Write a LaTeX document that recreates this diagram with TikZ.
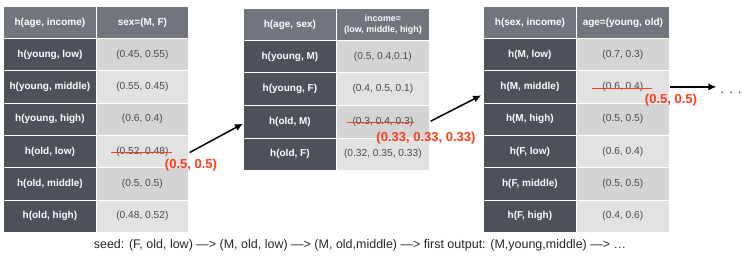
\documentclass[tikz,border=0pt]{standalone}
\usepackage{fontspec}
\setmainfont{Liberation Sans}
\usepackage{xcolor}
\usepackage{tikz}
\usetikzlibrary{arrows.meta, positioning}
\definecolor{hdrgray}{HTML}{72757E}
\definecolor{lblgray}{HTML}{4E505A}
\definecolor{cellA}{HTML}{D4D4D5}
\definecolor{cellB}{HTML}{E2E2E2}
\definecolor{valtext}{HTML}{4A4A4A}
\definecolor{redmark}{HTML}{FF3B1E}

\tikzset{
  cell/.style={draw=white, line width=0.8pt, inner sep=0pt, anchor=north west, minimum height=32.4pt},
  hdr/.style={cell, fill=hdrgray, text=white, font=\bfseries\fontsize{10}{12}\selectfont},
  lbl/.style={cell, fill=lblgray, text=white, minimum width=93pt, font=\bfseries\fontsize{10}{12}\selectfont},
  val/.style={cell, text=valtext, minimum width=92pt, font=\fontsize{10.2}{12}\selectfont},
  strike/.style={redmark, line width=1.3pt},
  newval/.style={redmark, font=\bfseries\fontsize{13}{15}\selectfont, inner sep=0pt},
  step arrow/.style={line width=1.5pt, -{Latex[length=8pt,width=7.5pt]}},
}

\begin{document}
\begin{tikzpicture}[x=1pt, y=-1pt]
    \useasboundingbox (0,0) rectangle (747,262);

    % table 1: sex given age, income
    \node[hdr, minimum width=93pt] (t1h) at (3,6) {h(age, income)};
    \node[hdr, minimum width=92pt] (t1hv) at (96,6) {sex=(M, F)};
    \foreach \l/\v [count=\i] in {{h(young, low)}/{(0.45, 0.55)}, {h(young, middle)}/{(0.55, 0.45)},
        {h(young, high)}/{(0.6, 0.4)}, {h(old, low)}/{(0.52, 0.48)},
        {h(old, middle)}/{(0.5, 0.5)}, {h(old, high)}/{(0.48, 0.52)}} {
      \pgfmathsetmacro{\rowy}{38+(\i-1)*32.3}
      \pgfmathtruncatemacro{\odd}{mod(\i,2)}
      \ifnum\odd=1 \def\cellc{cellA}\else\def\cellc{cellB}\fi
      \node[lbl] (t1l\i) at (3,\rowy) {\l};
      \node[val, fill=\cellc] (t1v\i) at (96,\rowy) {\v};
    }

    % table 2: income given age, sex
    \node[hdr, minimum width=93pt] (t2h) at (243,8) {h(age, sex)};
    \node[hdr, minimum width=93pt, align=center, font=\bfseries\fontsize{8.9}{11}\selectfont] (t2hv) at (336,8) {income=\\(low, middle, high)};
    \foreach \l/\v [count=\i] in {{h(young, M)}/{(0.5, 0.4,0.1)}, {h(young, F)}/{(0.4, 0.5, 0.1)},
        {h(old, M)}/{(0.3, 0.4, 0.3)}, {h(old, F)}/{(0.32, 0.35, 0.33)}} {
      \pgfmathsetmacro{\rowy}{40+(\i-1)*32.5}
      \pgfmathtruncatemacro{\odd}{mod(\i,2)}
      \ifnum\odd=1 \def\cellc{cellA}\else\def\cellc{cellB}\fi
      \node[lbl, minimum height=32.5pt] (t2l\i) at (243,\rowy) {\l};
      \node[val, fill=\cellc, minimum width=93pt, minimum height=32.5pt] (t2v\i) at (336,\rowy) {\v};
    }

    % table 3: age given sex, income
    \node[hdr, minimum width=93pt] (t3h) at (483,6) {h(sex, income)};
    \node[hdr, minimum width=93pt] (t3hv) at (576,6) {age=(young, old)};
    \foreach \l/\v [count=\i] in {{h(M, low)}/{(0.7, 0.3)}, {h(M, middle)}/{(0.6, 0.4)},
        {h(M, high)}/{(0.5, 0.5)}, {h(F, low)}/{(0.6, 0.4)},
        {h(F, middle)}/{(0.5, 0.5)}, {h(F, high)}/{(0.4, 0.6)}} {
      \pgfmathsetmacro{\rowy}{38+(\i-1)*32.3}
      \pgfmathtruncatemacro{\odd}{mod(\i,2)}
      \ifnum\odd=1 \def\cellc{cellA}\else\def\cellc{cellB}\fi
      \node[lbl] (t3l\i) at (483,\rowy) {\l};
      \node[val, fill=\cellc, minimum width=93pt] (t3v\i) at (576,\rowy) {\v};
    }

    % resampled values
    \draw[strike] ([xshift=-31pt,yshift=-1pt]t1v4.center) -- ([xshift=30pt,yshift=-1pt]t1v4.center);
    \node[newval] (new1) at (191,165) {(0.5, 0.5)};
    \draw[strike] ([xshift=-35.5pt,yshift=-1pt]t2v3.center) -- ([xshift=31.5pt,yshift=-1pt]t2v3.center);
    \node[newval] (new2) at (426,138) {(0.33, 0.33, 0.33)};
    \draw[strike] ([xshift=-30.5pt,yshift=-1.5pt]t3v2.center) -- ([xshift=29.5pt,yshift=-1.5pt]t3v2.center);
    \node[newval] (new3) at (671,100) {(0.5, 0.5)};

    \node[font=\fontsize{12}{14}\selectfont, inner sep=0pt] (dots) at (731,93) {.\hspace{5.5pt}.\hspace{5.5pt}.};

    \draw[step arrow, shorten <=1pt] ([yshift=-1.5pt]t1v4.east) -- ([yshift=-2pt]t2l3.west);
    \draw[step arrow, shorten <=1pt, shorten >=2pt] (t2v3.east) -- ([yshift=-7.5pt]t3l2.west);
    \draw[step arrow, shorten >=4pt] (t3v2.east) -- (t3v2.east -| dots.west);

    \node[font=\fontsize{12.5}{14}\selectfont, text=black!85] (seed) at (360,245)
      {seed: (F, old, low) —> (M, old, low) —> (M, old,middle) —> first output: (M,young,middle) —> …};
\end{tikzpicture}
\end{document}
